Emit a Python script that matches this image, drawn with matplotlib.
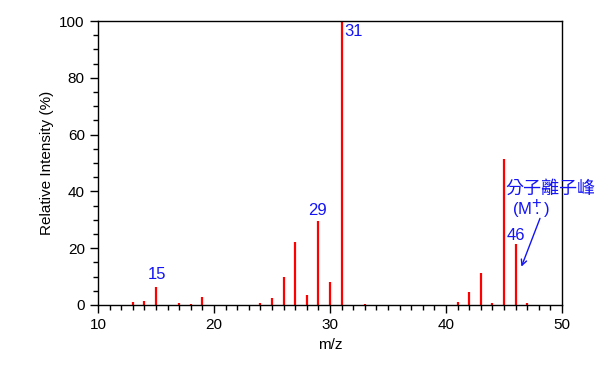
import numpy as np
import matplotlib
matplotlib.use("Agg")
from matplotlib import pyplot as plt
from matplotlib.ticker import MultipleLocator

# mass spectrum peaks (m/z, relative intensity %)
mz = [13, 14, 15, 17, 18, 19, 24, 25, 26, 27, 28, 29, 30, 31, 33,
      41, 42, 43, 44, 45, 46, 47]
intensity = [1.2, 1.3, 6.5, 0.6, 0.5, 2.7, 0.6, 2.5, 9.7, 22.3, 3.4, 29.7, 8.1, 100, 0.4,
             1.2, 4.6, 11.3, 0.6, 51.3, 21.5, 0.6]

peak_labels = ["15", "29", "31", "46"]

plt.rcParams['font.family'] = ['Liberation Sans', 'DejaVu Sans']
plt.rcParams['mathtext.fontset'] = 'custom'
plt.rcParams['mathtext.rm'] = 'Liberation Sans'
plt.rcParams['mathtext.it'] = 'Liberation Sans'

fig = plt.figure(figsize=(6, 3.7), dpi=100)
ax = fig.add_axes([0.1633, 0.1757, 0.7734, 0.7673])

ax.vlines(mz, 0, intensity, color='#ff0000', linewidth=1.6)

ax.set_xlim(10, 50)
ax.set_ylim(0, 100)
ax.xaxis.set_major_locator(MultipleLocator(10))
ax.xaxis.set_minor_locator(MultipleLocator(1))
ax.yaxis.set_major_locator(MultipleLocator(20))
ax.yaxis.set_minor_locator(MultipleLocator(5))
ax.tick_params(which='major', length=6, width=1, labelsize=11, direction='out')
ax.tick_params(which='minor', length=3.5, width=1, direction='out')
for s in ax.spines.values():
    s.set_linewidth(1)

ax.set_xlabel('m/z', fontsize=11)
ax.set_ylabel('Relative Intensity (%)', fontsize=11)

blue = '#1414f5'
# peak labels
pos = {"15": (15.1, 10.6), "29": (28.95, 33.4), "31": (32.0, 96.5), "46": (46.0, 24.6)}
for lab in peak_labels:
    x, y = pos[lab]
    ax.text(x, y, lab, color=blue, fontsize=12, ha='center', va='center')

# molecular ion annotation
ax.text(45.1, 40.8, '分子離子峰', color=blue, fontsize=13, ha='left', va='center',
        family=['Noto Sans CJK TC', 'DejaVu Sans'], clip_on=False, zorder=5)
ax.text(47.3, 34.2, r'(M$\genfrac{}{}{0}{0}{\mathregular{+}}{\bullet}$)', color=blue, fontsize=12,
        ha='center', va='center', clip_on=False, zorder=5)
ax.annotate('', xy=(46.5, 13.5), xytext=(48.1, 30.5),
            arrowprops=dict(arrowstyle='->', color=blue, lw=1, shrinkA=0, shrinkB=0))

fig.savefig('out.png', dpi=100)
